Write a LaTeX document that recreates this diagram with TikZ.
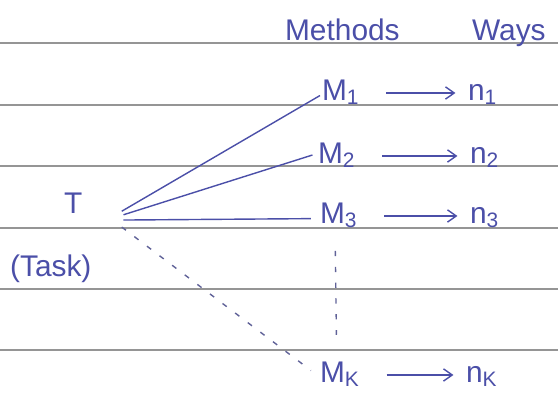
\documentclass[tikz,border=0pt]{standalone}
\usepackage{fontspec}
\setmainfont{Liberation Sans}
\usetikzlibrary{arrows.meta}
\definecolor{ink}{HTML}{4B4FA8}
\definecolor{ruling}{HTML}{959595}

\tikzset{
  hand/.style={text=ink, font=\fontsize{17}{19}\selectfont, inner sep=1pt, anchor=base west},
  link/.style={draw=ink, line width=0.8pt},
  dots/.style={draw=ink!60!gray, line width=0.8pt, dash pattern=on 3pt off 6pt},
  maps/.style={draw=ink, line width=0.8pt, -{Straight Barb[length=5pt,width=7pt]}}
}

\begin{document}
\begin{tikzpicture}[x=0.02cm,y=-0.02cm]
  \useasboundingbox (0,0) rectangle (558,397);

  % ruled paper
  \foreach \y in {43,105,166,228,289,350}
    \draw[ruling, line width=1pt] (0,\y) -- (558,\y);

  % headings
  \node[hand] (methods) at (283,40) {Methods};
  \node[hand] (ways) at (470,40) {Ways};

  % task
  \node[hand] (t) at (62,213) {T};
  \node[hand] (task) at (8,276) {(Task)};

  % methods and ways
  \node[hand] (m1) at (320,100) {M\textsubscript{1}};
  \node[hand] (m2) at (316,163) {M\textsubscript{2}};
  \node[hand] (m3) at (318,223) {M\textsubscript{3}};
  \node[hand] (mk) at (318,382) {M\textsubscript{K}};
  \node[hand] (n1) at (466,100) {n\textsubscript{1}};
  \node[hand] (n2) at (468,163) {n\textsubscript{2}};
  \node[hand] (n3) at (468,223) {n\textsubscript{3}};
  \node[hand] (nk) at (464,382) {n\textsubscript{K}};

  \foreach \a/\b in {m1/n1, m2/n2, m3/n3, mk/nk}
    \draw[maps] ([xshift=14pt,yshift=4pt]\a.base east) -- ([xshift=-6pt,yshift=4pt]\b.base west);

  % task to methods
  \draw[link] ([xshift=34pt,yshift=1pt]t.base west) -- ([yshift=-2pt]m1.west);
  \draw[link] ([xshift=35pt,yshift=-1pt]t.base west) -- ([xshift=-2pt]m2.west);
  \draw[link] ([xshift=35pt,yshift=-4pt]t.base west) -- ([xshift=-4pt,yshift=-2pt]m3.west);
  \draw[dots] ([xshift=34pt,yshift=-8pt]t.base west) -- ([xshift=-4pt,yshift=2pt]mk.west);
  \draw[dots] ([xshift=-2pt,yshift=-12pt]m3.south) -- ([xshift=-2pt,yshift=14pt]mk.north);

\end{tikzpicture}
\end{document}
